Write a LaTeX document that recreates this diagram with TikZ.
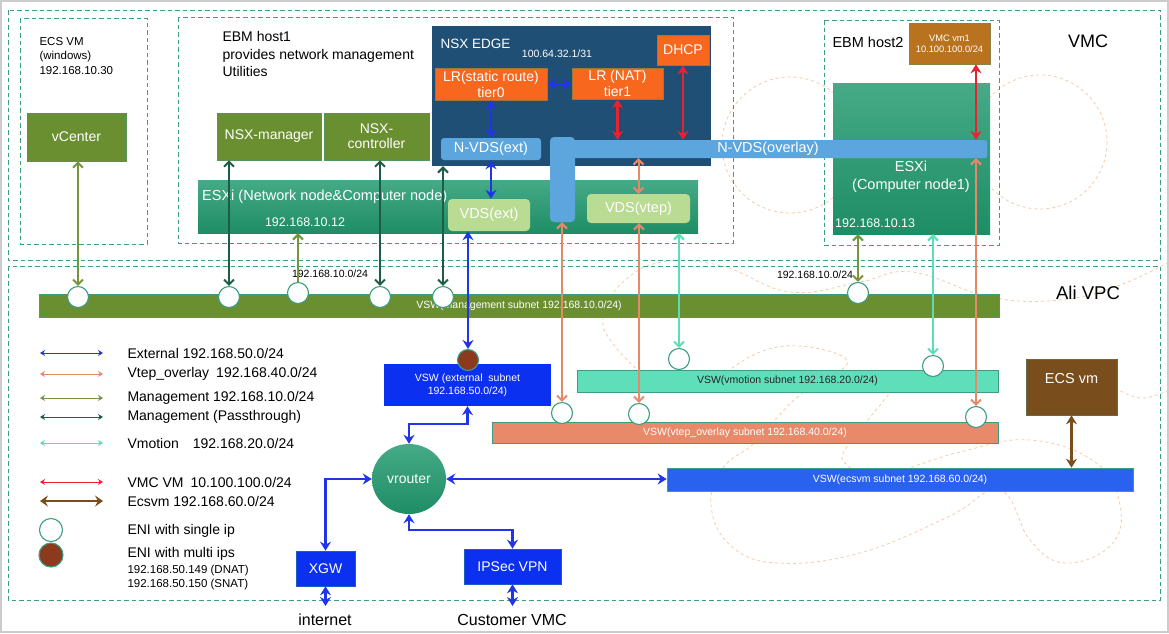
\documentclass[tikz,border=0pt]{standalone}
\usepackage{fontspec}
\setmainfont{Liberation Sans}
\usetikzlibrary{arrows.meta,calc,shapes.geometric}
\definecolor{dashc}{HTML}{3C9C86}
\definecolor{decoc}{HTML}{F7CBAA}
\definecolor{mgmt}{HTML}{77933C}
\definecolor{pass}{HTML}{1F5C45}
\definecolor{vmot}{HTML}{5DDCB5}
\definecolor{vtep}{HTML}{E5896A}
\definecolor{extblue}{HTML}{2035E8}
\definecolor{boxblue}{HTML}{0B30F0}
\definecolor{ecsblue}{HTML}{2A62F0}
\definecolor{vmred}{HTML}{E8222E}
\definecolor{ecsbrown}{HTML}{7A4D1C}
\definecolor{esxitop}{HTML}{46AA87}
\definecolor{esxibot}{HTML}{1E8D66}
\definecolor{edgeblue}{HTML}{1F4F74}
\definecolor{lrorange}{HTML}{F7671E}
\definecolor{lrborder}{HTML}{9A7A3A}
\definecolor{lblue}{HTML}{5CA6DD}
\definecolor{lgreen}{HTML}{B9DB92}
\definecolor{vmcbrown}{HTML}{B9731F}
\definecolor{vmgreen}{HTML}{6A8F30}
\definecolor{vmotbar}{HTML}{5EDEB9}
\definecolor{vtepbar}{HTML}{E8896A}
\definecolor{enibrown}{HTML}{8B3A1E}
\newcommand\fsz[2]{\fontsize{#1}{#2}\selectfont}
\tikzset{
 dbox/.style={draw=dashc, dash pattern=on 4.5pt off 3pt, line width=0.9pt},
 sz/.style 2 args={minimum width=#1pt, minimum height=#2pt, inner sep=0pt},
 gbox/.style={fill=vmgreen, text=white, draw=dashc!50!vmgreen, line width=0.6pt},
 obox/.style={fill=lrorange, text=white, draw=lrborder, line width=0.8pt},
 lbl/.style={fill=lblue, text=white},
 lgr/.style={fill=lgreen, text=white},
 esxi/.style={top color=esxitop, bottom color=esxibot, draw=none},
 vswbar/.style={draw=dashc, line width=0.6pt, font=\fsz{10.5}{12}},
 eni/.style={circle, draw=dashc, fill=white, line width=1.1pt, minimum size=21pt, inner sep=0pt},
 enim/.style={eni, fill=enibrown},
 ar/.style={line width=2pt, {Straight Barb[length=5pt,width=10pt]}-{Straight Barb[length=5pt,width=10pt]}},
 arUp/.style={line width=2pt, {Straight Barb[length=5pt,width=10pt]}-},
 arB/.style={line width=2.5pt, {Stealth[length=9pt,width=11pt,inset=3pt]}-{Stealth[length=9pt,width=11pt,inset=3pt]}},
 lgarrow/.style={line width=1pt, {Stealth[length=5pt,width=6pt]}-{Stealth[length=5pt,width=6pt]}},
 deco/.style={draw=decoc, dash pattern=on 3pt off 3pt, line width=0.8pt},
}
\begin{document}
\begin{tikzpicture}[x=1pt,y=-1pt,font=\fsz{14}{16}]
\useasboundingbox (0,0) rectangle (1169,633);
\fill[white] (0,0) rectangle (1169,633);
% background decoration
\draw[deco] (790,145) circle (68);
\draw[deco] (1040,142) circle (67);
\draw[deco] plot[smooth, tension=0.7] coordinates {(640,372) (614,345) (603,318) (622,283) (662,262) (722,266) (790,292) (860,282) (912,272) (990,297) (1060,300) (1120,285) (1169,262)};
\draw[deco] plot[smooth, tension=0.7] coordinates {(727,372) (760,352) (800,346) (845,358) (835,375) (800,395) (775,420) (752,445) (723,468) (711,505) (730,545) (777,563) (860,553) (948,517) (1000,490) (1030,540) (1065,563) (1111,545) (1120,505) (1095,462) (1030,440) (960,452) (880,475) (845,463) (848,445) (872,415) (890,393)};
\draw[deco] plot[smooth, tension=0.7] coordinates {(1110,385) (1140,398) (1169,390)};
% frames
\draw[gray!40, line width=2pt] (1,1) rectangle (1168,632);
\draw[dbox] (8,10) rectangle (1160,260);
\draw[dbox] (8,266) rectangle (1160,600);
\draw[dbox] (20,18) rectangle (147,244);
\draw[dbox] (178,17) rectangle (733,243);
\draw[dbox] (824,20) rectangle (999,245);
% top texts
\node[anchor=west, align=left, font=\fsz{11.5}{14.5}] (ecstxt) at (36,56) {ECS VM\\(windows)\\192.168.10.30};
\node[anchor=west, align=left, font=\fsz{14}{17.5}] (ebm1) at (219,54) {EBM host1\\provides network management\\Utilities};
\node[anchor=west, font=\fsz{14.5}{16}] (ebm2) at (829,42) {EBM host2};
\node[font=\fsz{18}{20}] (vmct) at (1088,41) {VMC};
\node[font=\fsz{18.5}{20}] (alit) at (1088,293) {Ali VPC};
% host1
\node[gbox, sz={99}{48}] (vcenter) at (76.5,137) {vCenter};
\node[gbox, sz={104}{47}] (nsxmgr) at (269,136.5) {NSX-manager};
\node[gbox, sz={105}{47}, align=center, font=\fsz{14}{15}] (nsxctl) at (376.5,136.5) {NSX-\\controller};
\node[esxi, sz={500}{53}] (esxi1) at (448,206.5) {};
\node[text=white, anchor=west, font=\fsz{14.5}{16}, inner sep=0pt] (esxi1t) at (202,197) {ESXi (Network node\&Computer node)};
\node[text=white, font=\fsz{12.5}{14}] (esxi1ip) at (305,222) {192.168.10.12};
\node[fill=edgeblue, sz={279}{140}] (edge) at (571.5,96) {};
\node[text=white, anchor=west, font=\fsz{13.5}{15}] (edget) at (437,44) {NSX EDGE};
\node[text=white, font=\fsz{10.5}{12}] (edgeip) at (557,54) {100.64.32.1/31};
\node[obox, sz={52}{30}] (dhcp) at (683,50) {DHCP};
\node[obox, sz={112}{32}, align=center, font=\fsz{14}{16}] (lr0) at (491,84) {LR(static route)\\tier0};
\node[obox, sz={91}{31}, align=center, font=\fsz{14}{16}] (lr1) at (617.5,83.5) {LR (NAT)\\tier1};
\node[lbl, rounded corners=3pt, sz={100}{22}, font=\fsz{14.5}{16}] (nvdsext) at (491,149) {N-VDS(ext)};
% host2
\node[esxi, sz={157}{151}] (esxi2) at (911.5,158.5) {};
\node[text=white, align=center, font=\fsz{14.5}{18}] (esxi2t) at (911,177) {ESXi\\(Computer node1)};
\node[text=white, anchor=west, font=\fsz{12.5}{14}, inner sep=0pt] (esxi2ip) at (835,223) {192.168.10.13};
\node[fill=vmcbrown, draw=dashc!40!vmcbrown, line width=0.6pt, sz={81}{41}, align=center, text=white, font=\fsz{9.3}{11}] (vmcvm) at (949.5,43.5) {VMC vm1\\10.100.100.0/24};
% overlay bars
\node[lbl, rounded corners=2pt, sz={422}{18}] (ovl) at (776,149) {};
\node[text=white, font=\fsz{14.5}{16}] (ovlt) at (768,149) {N-VDS(overlay)};
\node[lbl, rounded corners=4pt, sz={25}{85}] (vbar) at (562.5,179.5) {};
\node[lgr, rounded corners=4pt, sz={82}{32}, font=\fsz{14.5}{16}] (vdsext) at (489,215) {VDS(ext)};
\node[lgr, rounded corners=4pt, sz={103}{29}, font=\fsz{14.5}{16}] (vdsvtep) at (638.5,208.5) {VDS(vtep)};
% VPC
\node[vswbar, fill=vmgreen, text=white, sz={960}{23}] (mbar) at (519,305.5) {VSW(management subnet 192.168.10.0/24)};
\node[fill=boxblue, sz={167}{42}, text=white, align=center, font=\fsz{10.5}{13}] (extvsw) at (467.5,385) {VSW (external\ \ subnet\\192.168.50.0/24)};
\node[vswbar, fill=vmotbar, text=black!85, sz={421}{22}] (vmbar) at (787.5,381) {VSW(vmotion subnet 192.168.20.0/24)};
\node[vswbar, fill=vtepbar, text=white, sz={506}{21}] (vtbar) at (745,432.5) {VSW(vtep\_overlay subnet 192.168.40.0/24)};
\node[fill=ecsbrown, draw=dashc!40!ecsbrown, line width=0.6pt, sz={91}{56}] (ecsvm) at (1071.5,387) {};
\node[text=white, font=\fsz{14.5}{16}] (ecsvmt) at (1071.5,378) {ECS vm};
\node[vswbar, fill=ecsblue, text=white, sz={466}{23}] (ecsbar) at (900,479.5) {VSW(ecsvm subnet 192.168.60.0/24)};
\node[ellipse, top color=esxitop, bottom color=esxibot, sz={74}{70}, text=white, font=\fsz{14}{16}] (vrouter) at (409,479) {vrouter};
\node[fill=boxblue, draw=dashc!40!boxblue, line width=0.6pt, sz={59}{35}, text=white] (xgw) at (325.5,568.5) {XGW};
\node[fill=boxblue, draw=dashc!40!boxblue, line width=0.6pt, sz={97}{35}, text=white] (ipsec) at (512.5,566.5) {IPSec VPN};
\node[font=\fsz{16}{18}] (inet) at (325,620) {internet};
\node[font=\fsz{16}{18}] (cust) at (512,620) {Customer VMC};
\coordinate (inetTop) at (325.5,606);
\coordinate (custTop) at (512.5,606);
% labels
\node[font=\fsz{10.5}{12}] (lab1) at (330,274) {192.168.10.0/24};
\node[font=\fsz{10.5}{12}] (lab2) at (815,275) {192.168.10.0/24};
% ENI circles
\node[eni] (m1) at (78,297) {};
\node[eni] (m2) at (229,297) {};
\node[eni] (m3) at (298,293) {};
\node[eni] (m4) at (380,297) {};
\node[eni] (m5) at (443,297) {};
\node[eni] (m6) at (858,293) {};
\node[eni] (vm1) at (679,359) {};
\node[eni] (vm2) at (933,366) {};
\node[eni] (t1) at (562,413) {};
\node[eni] (t2) at (639,414) {};
\node[eni] (t3) at (976,417) {};
\node[enim] (ebr) at (468,360) {};
% arrows in edge
\draw[arB, color=extblue] (lr0.east) -- (lr1.west |- lr0.east);
\draw[arB, color=extblue] (lr0.south) -- (nvdsext.north);
\draw[arB, color=extblue] (nvdsext.south) -- (nvdsext.south |- vdsext.north);
\draw[arB, color=vmred] (lr1.south) -- (lr1.south |- ovl.north);
\draw[arB, color=vmred] (dhcp.south) -- (dhcp.south |- ovl.north);
\draw[ar, color=vtep] (vdsvtep.north |- ovl.south) -- (vdsvtep.north);
\draw[arB, color=vmred] (t3 |- vmcvm.south) -- (t3 |- ovl.north);
% arrows to subnets
\draw[ar, color=vtep] (t3 |- ovl.south) -- (t3);
\draw[ar, color=mgmt] (m1 |- vcenter.south) -- (m1);
\draw[ar, color=pass] (m2 |- nsxmgr.south) -- (m2);
\draw[arUp, color=mgmt] (m3 |- esxi1.south) -- (m3);
\draw[ar, color=pass] (m4 |- nsxctl.south) -- (m4);
\draw[ar, color=pass] (m5 |- edge.south) -- (m5);
\draw[arB, color=extblue] (ebr |- vdsext.south) -- (ebr);
\draw[ar, color=vtep] (t1 |- vbar.south) -- (t1);
\draw[ar, color=vtep] (t2 |- vdsvtep.south) -- (t2);
\draw[ar, color=vmot] (vm1 |- esxi1.south) -- (vm1);
\draw[ar, color=mgmt] (m6 |- esxi2.south) -- (m6);
\draw[ar, color=vmot] (vm2 |- esxi2.south) -- (vm2);
% vrouter arrows
\draw[arB, color=extblue] (extvsw.south) -- ++(0,18) -| (vrouter.north);
\draw[arB, color=extblue] (vrouter.east) -- (vrouter.east -| ecsbar.west);
\draw[arB, color=extblue] (xgw.north) |- (vrouter.west);
\draw[arB, color=extblue] (vrouter.south) -- ++(0,16) -| (ipsec.north);
\draw[arB, color=extblue] (xgw.south) -- (inetTop);
\draw[arB, color=extblue] (ipsec.south) -- (custTop);
\draw[arB, color=ecsbrown] (ecsvm.south) -- (ecsvm.south |- ecsbar.north);
% legend
\foreach \n/\y/\c in {1/353/extblue, 2/374/vtep, 3/398/mgmt, 4/417/pass, 5/443/vmot, 6/482/vmred} {
  \coordinate (lga\n) at (40,\y);
  \coordinate (lgb\n) at (103,\y);
  \draw[lgarrow, color=\c] (lga\n) -- (lgb\n);
}
\coordinate (lga7) at (40,501);
\coordinate (lgb7) at (103,501);
\draw[color=ecsbrown, line width=2.6pt, {Stealth[length=8pt,width=11pt,inset=3pt]}-{Stealth[length=8pt,width=11pt,inset=3pt]}] (lga7) -- (lgb7);
\begin{scope}[font=\fsz{14}{16}]
\node[anchor=west] (lt1) at (124,353) {External 192.168.50.0/24};
\node[anchor=west] (lt2) at (124,374) {Vtep\_overlay\enspace 192.168.40.0/24};
\node[anchor=west] (lt3) at (124,398) {Management 192.168.10.0/24};
\node[anchor=west] (lt4) at (124,417) {Management (Passthrough)};
\node[anchor=west] (lt5) at (124,443) {Vmotion\quad 192.168.20.0/24};
\node[anchor=west] (lt6) at (124,482) {VMC VM\enspace 10.100.100.0/24};
\node[anchor=west] (lt7) at (124,501) {Ecsvm 192.168.60.0/24};
\node[anchor=west] (lt8) at (124,531) {ENI with single ip};
\node[anchor=west] (lt9) at (124,554) {ENI with multi ips};
\end{scope}
\node[anchor=west, align=left, font=\fsz{11.5}{14}] (lt10) at (124,578) {192.168.50.149 (DNAT)\\192.168.50.150 (SNAT)};
\node[eni, minimum size=23pt] (lgc1) at (51,530) {};
\node[enim, minimum size=24pt] (lgc2) at (51,555) {};
\end{tikzpicture}
\end{document}
